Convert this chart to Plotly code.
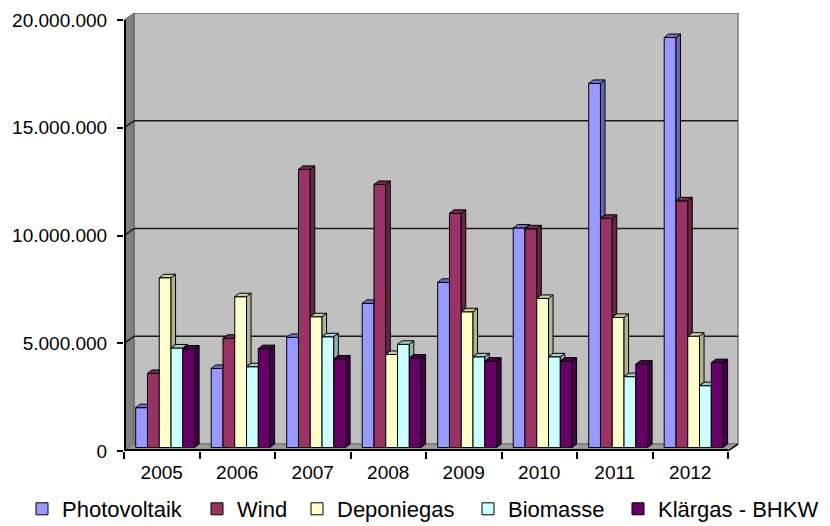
import plotly.graph_objects as go

years = ["2005", "2006", "2007", "2008", "2009", "2010", "2011", "2012"]
series_names = ["Photovoltaik", "Wind", "Deponiegas", "Biomasse", "Klärgas - BHKW"]
photovoltaik = [1.85e6, 3.67e6, 5.11e6, 6.69e6, 7.67e6, 10.19e6, 16.90e6, 19.03e6]
wind = [3.44e6, 5.07e6, 12.91e6, 12.21e6, 10.87e6, 10.15e6, 10.64e6, 11.45e6]
deponiegas = [7.88e6, 7.00e6, 6.07e6, 4.32e6, 6.30e6, 6.92e6, 6.04e6, 5.17e6]
biomasse = [4.62e6, 3.75e6, 5.14e6, 4.79e6, 4.21e6, 4.21e6, 3.29e6, 2.87e6]
klaergas = [4.57e6, 4.59e6, 4.11e6, 4.15e6, 4.01e6, 4.01e6, 3.87e6, 3.94e6]
ytick_vals = [0, 5e6, 10e6, 15e6, 20e6]
ytick_text = ["0", "5.000.000", "10.000.000", "15.000.000", "20.000.000"]

values = [photovoltaik, wind, deponiegas, biomasse, klaergas]
front_colors = ["#9999FF", "#993366", "#FFFFCC", "#CCFFFF", "#660066"]
side_colors = ["#6666B3", "#6B2447", "#B3B38F", "#8FB3B3", "#470047"]
top_colors = ["#7373CC", "#7A2952", "#CCCCA3", "#A3CCCC", "#520052"]

FONT = "Arial, Liberation Sans, sans-serif"
N = len(years)
BAR_W = 0.156          # bar width in category units
START = -0.345         # left edge of first bar relative to category center
DX = 0.06              # bar depth, x direction (category units)
DY = 0.162e6           # bar depth, y direction (value units)
BASE = 0.162e6         # bars sit slightly behind the front axis plane
WDX = 0.1325           # wall depth, x
WDY = 0.324e6          # wall depth, y
XMAX = 7.659
YMAX = 20.33e6
legend_x_px = [22, 197, 297, 468, 618]

fig = go.Figure()
xs = list(range(N))
legend_ids = ["legend"] + [f"legend{i}" for i in range(2, len(series_names) + 1)]

for s, name in enumerate(series_names):
    fig.add_trace(go.Bar(
        x=xs, y=values[s], base=BASE, name=name, legend=legend_ids[s],
        offset=START + s * BAR_W, width=BAR_W,
        marker=dict(color=front_colors[s], line=dict(color="black", width=1)),
        hovertemplate=name + " %{x}: %{y:,.0f}<extra></extra>",
    ))

# 3D side and top faces derived from the data
for s in range(len(series_names)):
    sx, sy, tx, ty = [], [], [], []
    for c in range(N):
        xl = c + START + s * BAR_W
        xr = xl + BAR_W
        b = BASE
        t = BASE + values[s][c]
        ntop = BASE + values[s + 1][c] if s < len(series_names) - 1 else b
        if ntop < t:
            low = max(ntop, b)
            sx += [xr, xr + DX, xr + DX, xr, xr, None]
            sy += [low, low + DY, t + DY, t, low, None]
        if ntop > t:
            tx += [xl, xr, xr, xl + DX, xl, None]
            ty += [t, t, t + DY, t + DY, t, None]
        else:
            tx += [xl, xr, xr + DX, xl + DX, xl, None]
            ty += [t, t, t + DY, t + DY, t, None]
    fig.add_trace(go.Scatter(x=sx, y=sy, mode="lines", fill="toself",
                             fillcolor=side_colors[s], line=dict(color="black", width=1),
                             showlegend=False, hoverinfo="skip"))
    fig.add_trace(go.Scatter(x=tx, y=ty, mode="lines", fill="toself",
                             fillcolor=top_colors[s], line=dict(color="black", width=1),
                             showlegend=False, hoverinfo="skip"))

shapes = []
# back wall
shapes.append(dict(type="rect", xref="x", yref="y", x0=-0.5 + WDX, x1=N - 0.5 + WDX,
                   y0=WDY, y1=ytick_vals[-1] + WDY, fillcolor="#C0C0C0",
                   line=dict(color="#808080", width=1.5), layer="below"))
# left wall
shapes.append(dict(type="path", xref="x", yref="y",
                   path=f"M -0.5,0 L -0.5,{ytick_vals[-1]} L {-0.5 + WDX},{ytick_vals[-1] + WDY} L {-0.5 + WDX},{WDY} Z",
                   fillcolor="#808080", line=dict(color="#606060", width=1), layer="below"))
# floor
shapes.append(dict(type="path", xref="x", yref="y",
                   path=f"M -0.5,0 L {N - 0.5},0 L {N - 0.5 + WDX},{WDY} L {-0.5 + WDX},{WDY} Z",
                   fillcolor="#999999", line=dict(color="#707070", width=1), layer="below"))
# gridlines
for v in ytick_vals[1:-1]:
    shapes.append(dict(type="line", xref="x", yref="y", x0=-0.5, y0=v, x1=-0.5 + WDX, y1=v + WDY,
                       line=dict(color="#1a1a1a", width=1.5), layer="below"))
    shapes.append(dict(type="line", xref="x", yref="y", x0=-0.5 + WDX, y0=v + WDY, x1=N - 0.5 + WDX, y1=v + WDY,
                       line=dict(color="#1a1a1a", width=1.5), layer="below"))
# axis lines
shapes.append(dict(type="line", xref="x", yref="y", x0=-0.5, y0=0, x1=N - 0.5, y1=0,
                   line=dict(color="black", width=4), layer="above"))
shapes.append(dict(type="line", xref="x", yref="y", x0=N - 0.5, y0=0, x1=N - 0.5 + WDX, y1=WDY,
                   line=dict(color="black", width=1.5), layer="above"))
shapes.append(dict(type="line", xref="x", yref="y", x0=-0.5, y0=0, x1=-0.5, y1=ytick_vals[-1],
                   line=dict(color="black", width=4), layer="above"))

layout_legends = {}
for i, lid in enumerate(legend_ids):
    layout_legends[lid] = dict(orientation="h", xref="container", yref="container",
                               x=legend_x_px[i] / 830, y=1 - 509 / 526,
                               xanchor="left", yanchor="middle",
                               font=dict(size=22, family=FONT), bgcolor="rgba(0,0,0,0)")

fig.update_layout(
    width=830, height=526, autosize=False,
    margin=dict(l=124, r=90, t=13, b=75, autoexpand=False),
    paper_bgcolor="white", plot_bgcolor="white",
    barmode="overlay",
    shapes=shapes,
    font=dict(family=FONT, color="black"),
    xaxis=dict(range=[-0.5, XMAX], tickmode="array", tickvals=xs, ticktext=years,
               ticks="", showgrid=False, zeroline=False, showline=False,
               tickfont=dict(size=19, family=FONT), ticklabelstandoff=8,
               minor=dict(tickmode="array", tickvals=[i - 0.5 for i in range(N + 1)],
                          ticks="outside", ticklen=7, tickwidth=1.5, tickcolor="black", showgrid=False)),
    yaxis=dict(range=[0, YMAX], tickmode="array", tickvals=ytick_vals, ticktext=ytick_text,
               ticks="outside", ticklen=6, tickwidth=1.5, tickcolor="black",
               showgrid=False, zeroline=False, showline=False,
               tickfont=dict(size=19, family=FONT), ticklabelstandoff=6),
    **layout_legends,
)

fig.write_html("out.html")
